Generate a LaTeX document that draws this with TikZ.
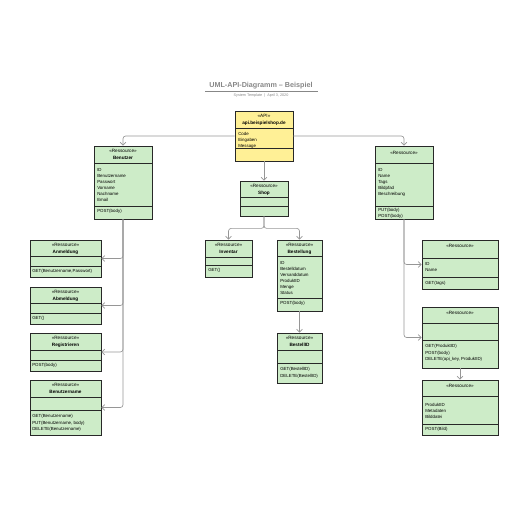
\documentclass[tikz,border=0pt]{standalone}
\usepackage{fontspec}
\setmainfont{Liberation Sans}
\usetikzlibrary{fit,arrows.meta}

\definecolor{clsgreen}{RGB}{205,236,200}
\definecolor{apiyellow}{RGB}{255,240,150}
\definecolor{linegray}{RGB}{150,150,150}
\definecolor{titlegray}{RGB}{135,135,135}

\begin{document}
\begin{tikzpicture}[x=0.75pt,y=0.75pt,yscale=-1,xscale=1,
  cls/.style={draw={rgb,255:red,40;green,40;blue,40}, fill=clsgreen, line width=0.6pt, inner sep=0pt},
  apibox/.style={cls, fill=apiyellow},
  sep/.style={draw={rgb,255:red,40;green,40;blue,40}, line width=0.6pt},
  hd/.style={anchor=north, align=center, inner sep=0pt, font=\fontsize{3.5}{4.6}\selectfont},
  txt/.style={anchor=north west, align=left, inner sep=0pt, font=\fontsize{3.3}{4.6}\selectfont},
  conn/.style={draw=linegray, line width=0.5pt, rounded corners=2pt, -{Straight Barb[length=2.2pt,width=4.4pt]}}]
\useasboundingbox (0,0) rectangle (516,516);

% Title
\node [font=\bfseries\fontsize{5.4}{6}\selectfont, text=titlegray] (title) at (261,86) {UML-API-Diagramm – Beispiel};
\draw [titlegray, line width=0.4pt] (205,91) -- (318,91) ;
\node [font=\fontsize{2.8}{3}\selectfont, text=titlegray] (subtitle) at (261,96) {System Template \ | \ April 3, 2020};

%Shape: Class [api]
\node [apibox, fit={(235,111) (293,161)}] (api) {};
\draw [sep] (235,128) -- (293,128) ; \draw [sep] (235,148) -- (293,148) ;
\node [hd] (api-h) at (264,114.5) {«API»\\\textbf{api.beispielshop.de}};
\node [txt] (api-a) at (238,132) {Code\\Eingaben\\Message};

%Shape: Class [benutzer]
\node [cls, fit={(94,146) (152,219)}] (benutzer) {};
\draw [sep] (94,163) -- (152,163) ; \draw [sep] (94,206) -- (152,206) ;
\node [hd] (benutzer-h) at (123,149.5) {«Ressource»\\\textbf{Benutzer}};
\node [txt] (benutzer-a) at (97,168) {ID\\Benutzername\\Passwort\\Vorname\\Nachname\\Email};
\node [txt] (benutzer-m) at (97,209.5) {POST(body)};

%Shape: Class [produkte]
\node [cls, fit={(375,146) (433,219)}] (produkte) {};
\draw [sep] (375,163) -- (433,163) ; \draw [sep] (375,206) -- (433,206) ;
\node [hd] (produkte-h) at (404,151) {«Ressource»};
\node [txt] (produkte-a) at (378,168) {ID\\Name\\Tags\\Bildpfad\\Beschreibung};
\node [txt] (produkte-m) at (378,207.8) {PUT(body)\\POST(body)};

%Shape: Class [shop]
\node [cls, fit={(240,181) (288,216)}] (shop) {};
\draw [sep] (240,197) -- (288,197) ; \draw [sep] (240,206) -- (288,206) ;
\node [hd] (shop-h) at (264,184.5) {«Ressource»\\\textbf{Shop}};

%Shape: Class [inventar]
\node [cls, fit={(205,240) (252,277)}] (inventar) {};
\draw [sep] (205,257) -- (252,257) ; \draw [sep] (205,265) -- (252,265) ;
\node [hd] (inventar-h) at (228.5,243.5) {«Ressource»\\\textbf{Inventar}};
\node [txt] (inventar-m) at (208,268.5) {GET()};

%Shape: Class [bestellung]
\node [cls, fit={(277,240) (322,311)}] (bestellung) {};
\draw [sep] (277,256) -- (322,256) ; \draw [sep] (277,298) -- (322,298) ;
\node [hd] (bestellung-h) at (299.5,243.5) {«Ressource»\\\textbf{Bestellung}};
\node [txt] (bestellung-a) at (280,261) {ID\\Bestelldatum\\Versanddatum\\ProduktID\\Menge\\Status};
\node [txt] (bestellung-m) at (280,301.5) {POST(body)};

%Shape: Class [bestellid]
\node [cls, fit={(277,333) (322,383)}] (bestellid) {};
\draw [sep] (277,350) -- (322,350) ; \draw [sep] (277,363) -- (322,363) ;
\node [hd] (bestellid-h) at (299.5,336.5) {«Ressource»\\\textbf{BestellID}};
\node [txt] (bestellid-m) at (280,367.5) {GET(BestellID)\\DELETE(BestellID)};

%Shape: Class [anmeldung]
\node [cls, fit={(30,240) (101,277)}] (anmeldung) {};
\draw [sep] (30,256) -- (101,256) ; \draw [sep] (30,266) -- (101,266) ;
\node [hd] (anmeldung-h) at (65.5,243.5) {«Ressource»\\\textbf{Anmeldung}};
\node [txt] (anmeldung-m) at (32,269.5) {GET(Benutzername,Passwort)};

%Shape: Class [abmeldung]
\node [cls, fit={(30,287) (101,324)}] (abmeldung) {};
\draw [sep] (30,303) -- (101,303) ; \draw [sep] (30,313) -- (101,313) ;
\node [hd] (abmeldung-h) at (65.5,290.5) {«Ressource»\\\textbf{Abmeldung}};
\node [txt] (abmeldung-m) at (32,316.5) {GET()};

%Shape: Class [registrieren]
\node [cls, fit={(30,333) (101,371)}] (registrieren) {};
\draw [sep] (30,350) -- (101,350) ; \draw [sep] (30,360) -- (101,360) ;
\node [hd] (registrieren-h) at (65.5,336.5) {«Ressource»\\\textbf{Registrieren}};
\node [txt] (registrieren-m) at (32,363.5) {POST(body)};

%Shape: Class [benutzername]
\node [cls, fit={(30,380) (101,435)}] (benutzername) {};
\draw [sep] (30,397) -- (101,397) ; \draw [sep] (30,410) -- (101,410) ;
\node [hd] (benutzername-h) at (65.5,383.5) {«Ressource»\\\textbf{Benutzername}};
\node [txt] (benutzername-m) at (32,414.5) {GET(Benutzername)\\PUT(Benutzername, body)\\DELETE(Benutzername)};

%Shape: Class [tags]
\node [cls, fit={(422,240) (498,289)}] (tags) {};
\draw [sep] (422,258) -- (498,258) ; \draw [sep] (422,277) -- (498,277) ;
\node [hd] (tags-h) at (460,244.5) {«Ressource»};
\node [txt] (tags-a) at (425,262) {ID\\Name};
\node [txt] (tags-m) at (425,281) {GET(tags)};

%Shape: Class [produkt]
\node [cls, fit={(422,307) (498,368)}] (produkt) {};
\draw [sep] (422,323) -- (498,323) ; \draw [sep] (422,340) -- (498,340) ;
\node [hd] (produkt-h) at (460,311.5) {«Ressource»};
\node [txt] (produkt-m) at (425,344.5) {GET(ProduktID)\\POST(body)\\DELETE(api\_key, ProduktID)};

%Shape: Class [bild]
\node [cls, fit={(422,380) (498,435)}] (bild) {};
\draw [sep] (422,396) -- (498,396) ; \draw [sep] (422,424) -- (498,424) ;
\node [hd] (bild-h) at (460,384.5) {«Ressource»};
\node [txt] (bild-a) at (425,403) {ProduktID\\Metadaten\\Bilddatei};
\node [txt] (bild-m) at (425,427.5) {POST(Bild)};

%Connectors
\draw [conn] (api.west) -| (benutzer.north) ;
\draw [conn] (api.east) -| (produkte.north) ;
\draw [conn] (api.south) -- (shop.north) ;
\draw [conn] (shop.south) -- ++(0,12) -| (inventar.north) ;
\draw [conn] (shop.south) -- ++(0,12) -| (bestellung.north) ;
\draw [conn] (bestellung.south) -- (bestellid.north) ;
\draw [conn] (benutzer.south) |- (anmeldung.east) ;
\draw [conn] (benutzer.south) |- (abmeldung.east) ;
\draw [conn] (benutzer.south) |- (registrieren.east) ;
\draw [conn] (benutzer.south) |- (benutzername.east) ;
\draw [conn] (produkte.south) |- (tags.west) ;
\draw [conn] (produkte.south) |- (produkt.west) ;
\draw [conn] (produkt.south) -- (bild.north) ;

\end{tikzpicture}
\end{document}
